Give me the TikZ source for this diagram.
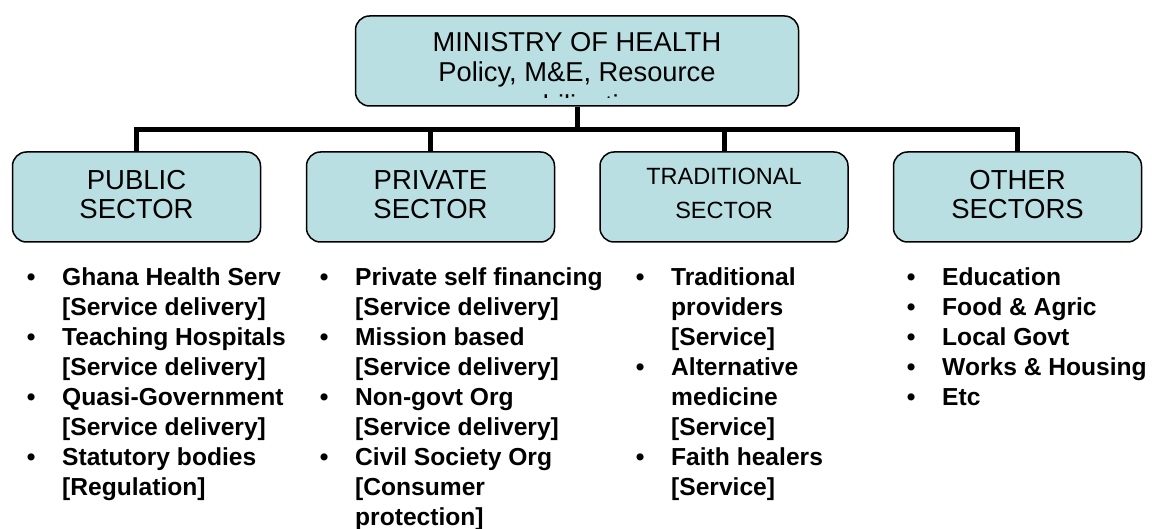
\documentclass[tikz,border=0pt]{standalone}
\usepackage{fontspec}
\setmainfont{Liberation Sans}
\definecolor{boxfill}{RGB}{186,223,226}
% bullet hung to the left of the item text
\newcommand\bul{\llap{\makebox[62pt]{\textbullet}}}
\begin{document}
\begin{tikzpicture}[x=1pt,y=-1pt,
  orgbox/.style={draw=black, line width=1.5pt, fill=boxfill, rounded corners=14pt,
                 minimum width=248pt, minimum height=90pt, inner sep=0pt},
  headbox/.style={orgbox, minimum width=443pt, minimum height=90pt},
  link/.style={draw=black, line width=5pt},
  headtext/.style={anchor=base, inner sep=0pt, font=\fontsize{27.3}{30}\selectfont},
  boxtext/.style={anchor=base, inner sep=0pt, font=\fontsize{27.5}{28.3}\selectfont},
  smalltext/.style={anchor=base, inner sep=0pt, font=\fontsize{23.5}{33.3}\selectfont},
  listtext/.style={anchor=base west, inner sep=0pt, font=\bfseries\fontsize{24.6}{30}\selectfont}]

\useasboundingbox (0,0) rectangle (1152,529);

% Ministry box with its text; the last line runs past the box and is cut off
\node[headbox] (moh) at (577,61) {};
\node[headtext] (mohtext) at (577,51.7)
  {\begin{tabular}[t]{@{}c@{}}MINISTRY OF HEALTH\\ Policy, M\&E, Resource\end{tabular}};
\begin{scope}
  \clip (357,17) rectangle (797,97.3);
  \node[headtext] (mohtext3) at (577,115) {mobilisation};
\end{scope}

% Sector boxes
\node[orgbox] (pub) at (136.5,197) {};
\node[orgbox] (pri) at (430.5,197) {};
\node[orgbox] (tra) at (724,197) {};
\node[orgbox] (oth) at (1017.5,197) {};

\node[boxtext] (pubtext) at (136.5,190)
  {\begin{tabular}[t]{@{}c@{}}PUBLIC\\ SECTOR\end{tabular}};
\node[boxtext] (pritext) at (430.5,190)
  {\begin{tabular}[t]{@{}c@{}}PRIVATE\\ SECTOR\end{tabular}};
\node[smalltext] (tratext) at (724,185)
  {\begin{tabular}[t]{@{}c@{}}TRADITIONAL\\ SECTOR\end{tabular}};
\node[boxtext] (othtext) at (1017.5,190)
  {\begin{tabular}[t]{@{}c@{}}OTHER\\ SECTORS\end{tabular}};

% Connectors: trunk down from the ministry, bus bar, drops to each sector
\coordinate (bus) at (577,129.5);
\draw[link] (moh.south) -- (bus);
\draw[link] (bus) -| (pub.north);
\draw[link] (bus) -| (pri.north);
\draw[link] (bus) -| (tra.north);
\draw[link] (bus) -| (oth.north);

% Lists under each sector
\node[listtext] (publist) at (62,286)
  {\begin{tabular}[t]{@{}l@{}}
    \bul Ghana Health Serv\\ {[Service delivery]}\\
    \bul Teaching Hospitals\\ {[Service delivery]}\\
    \bul Quasi-Government\\ {[Service delivery]}\\
    \bul Statutory bodies\\ {[Regulation]}
  \end{tabular}};
\node[listtext] (prilist) at (355,286)
  {\begin{tabular}[t]{@{}l@{}}
    \bul Private self financing\\ {[Service delivery]}\\
    \bul Mission based\\ {[Service delivery]}\\
    \bul Non-govt Org\\ {[Service delivery]}\\
    \bul Civil Society Org\\ {[Consumer}\\ protection]
  \end{tabular}};
\node[listtext] (tralist) at (671,286)
  {\begin{tabular}[t]{@{}l@{}}
    \bul Traditional\\ providers\\ {[Service]}\\
    \bul Alternative\\ medicine\\ {[Service]}\\
    \bul Faith healers\\ {[Service]}
  \end{tabular}};
\node[listtext] (othlist) at (942,286)
  {\begin{tabular}[t]{@{}l@{}}
    \bul Education\\
    \bul Food \& Agric\\
    \bul Local Govt\\
    \bul Works \& Housing\\
    \bul Etc
  \end{tabular}};
\end{tikzpicture}
\end{document}
